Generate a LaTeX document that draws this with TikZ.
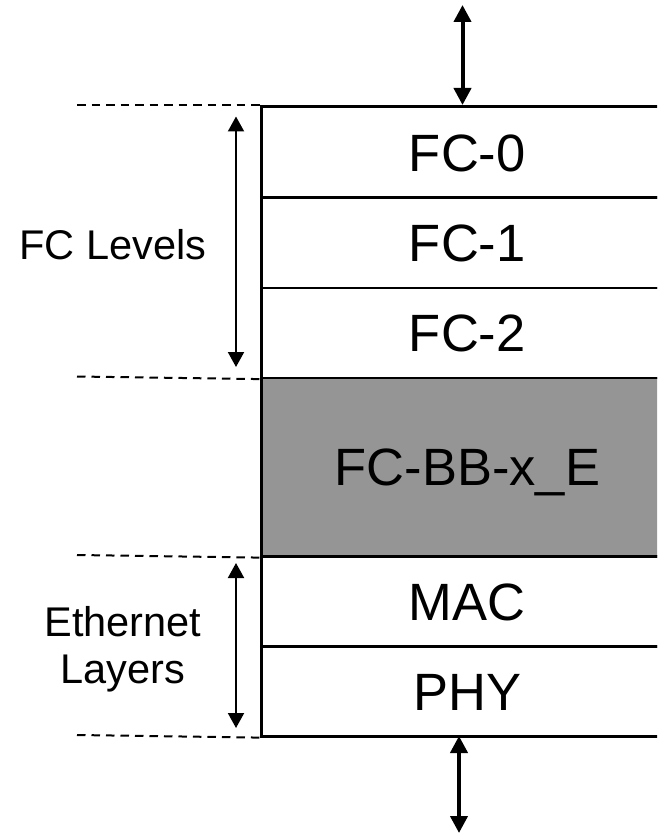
\documentclass[tikz,border=0pt]{standalone}
\usepackage{fontspec}
\setmainfont{Liberation Sans}
\usetikzlibrary{arrows.meta}
\definecolor{bbgray}{HTML}{959595}
\tikzset{
  layer/.style={draw=black, line width=2.6pt, minimum width=412pt, inner sep=0pt,
    anchor=north west, font=\fontsize{52.5}{60}\selectfont, text height=37.6pt, text depth=0pt},
  sidelabel/.style={font=\fontsize{41.5}{47}\selectfont, align=center, inner sep=0pt},
  guide/.style={line width=2pt, dash pattern=on 8.5pt off 6pt},
  dimarrow/.style={line width=2pt, {Triangle[width=16pt,length=15pt]}-{Triangle[width=16pt,length=15pt]}},
  ioarrow/.style={line width=4pt, {Triangle[width=17pt,length=17pt]}-{Triangle[width=17pt,length=17pt]}}
}
\begin{document}
\begin{tikzpicture}[x=1pt,y=-1pt]
\useasboundingbox (0,0) rectangle (657,834);
\clip (0,0) rectangle (657,834);
% layers
\node[layer, minimum height=91pt] (fc0) at (260,105.5) {FC-0};
\node[layer, minimum height=90pt] (fc1) at (260,196.5) {FC-1};
\node[layer, minimum height=90pt] (fc2) at (260,286.5) {FC-2};
\node[layer, minimum height=178.5pt, fill=bbgray] (bb) at (260,376.5) {FC-BB-x\_E};
\node[layer, minimum height=90pt] (mac) at (260,555) {MAC};
\node[layer, minimum height=90pt] (phy) at (260,645) {PHY};
% guide line start points
\coordinate (g1) at (77,105.5);
\coordinate (g2) at (77,376.5);
\coordinate (g3) at (77,555);
\coordinate (g4) at (77,735);
\draw[guide] (g1) -- (fc0.north west);
\draw[guide] (g2) -- (fc2.south west);
\draw[guide] (g3) -- (bb.south west);
\draw[guide] (g4) -- (phy.south west);
% dimension arrows
\coordinate (a1) at (236,116.5);
\coordinate (a2) at (236,367);
\coordinate (a3) at (236,563);
\coordinate (a4) at (236,728);
\draw[dimarrow] (a1) -- (a2);
\draw[dimarrow] (a3) -- (a4);
% labels
\node[sidelabel] (fclev) at (113,245) {FC Levels};
\node[sidelabel] (ethlay) at (123,649) {Ethernet\\Layers};
% io arrows
\coordinate (t0) at (462.5,5);
\coordinate (t1) at (462.5,105);
\coordinate (b0) at (459,736);
\coordinate (b1) at (459,833);
\draw[ioarrow] (t0) -- (t1);
\draw[ioarrow] (b0) -- (b1);
\end{tikzpicture}
\end{document}
